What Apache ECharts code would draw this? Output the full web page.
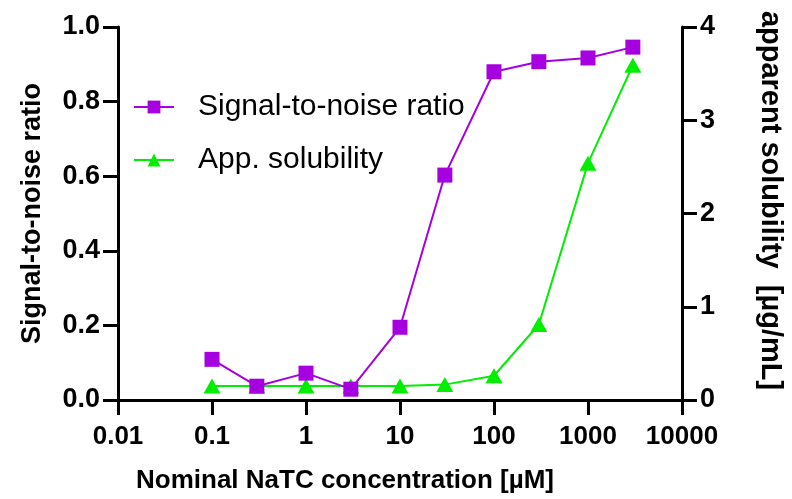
<!DOCTYPE html>
<html>
<head>
<meta charset="utf-8">
<script src="https://cdn.jsdelivr.net/npm/echarts@6/dist/echarts.min.js"></script>
<style>html,body{margin:0;padding:0;background:#fff}#c{width:792px;height:499px}</style>
</head>
<body>
<div id="c"></div>
<script>
const concentrations = [0.1, 0.3, 1, 3, 10, 30, 100, 300, 1000, 3000];
const snrValues = [0.109, 0.037, 0.072, 0.029, 0.195, 0.603, 0.88, 0.907, 0.917, 0.946];
const solubilityValues = [0.15, 0.15, 0.15, 0.15, 0.15, 0.165, 0.26, 0.81, 2.54, 3.59];
const xTickLabels = ['0.01', '0.1', '1', '10', '100', '1000', '10000'];
const seriesNames = ['Signal-to-noise ratio', 'App. solubility'];

const FONT = 'Liberation Sans, Arial, sans-serif';
const axisLineStyle = {color: '#000', width: 3};
const chart = echarts.init(document.getElementById('c'), null, {renderer: 'canvas'});
chart.setOption({
  animation: false,
  grid: {left: 118, right: 109, top: 27, bottom: 97, containLabel: false},
  legend: {
    orient: 'vertical', left: 133, top: 92, padding: 0, itemGap: 23, itemWidth: 40, itemHeight: 16,
    textStyle: {fontFamily: FONT, fontSize: 30, lineHeight: 30, color: '#000', padding: [0, 0, 0, 19]},
    data: seriesNames
  },
  xAxis: [{
    type: 'log', logBase: 10, min: 0.01, max: 10000,
    axisLine: {show: true, lineStyle: axisLineStyle},
    axisTick: {show: true, inside: false, length: 15, lineStyle: {width: 3, color: '#000'}},
    splitLine: {show: false}, minorTick: {show: false},
    axisLabel: {
      margin: 24, color: '#000', fontFamily: FONT, fontWeight: 'bold', fontSize: 26,
      formatter: function (v) {
        const i = Math.round(Math.log10(v)) + 2;
        return xTickLabels[i];
      }
    },
    name: 'Nominal NaTC concentration [µM]', nameLocation: 'middle', nameGap: 68,
    nameTextStyle: {fontFamily: FONT, fontWeight: 'bold', fontSize: 26, color: '#000', padding: [0, 110, 0, 0]}
  }, {
    type: 'value', position: 'top', min: 0, max: 1,
    axisLine: {show: true, lineStyle: axisLineStyle},
    axisTick: {show: false}, axisLabel: {show: false}, splitLine: {show: false}
  }],
  yAxis: [{
    type: 'value', min: 0, max: 1, interval: 0.2, position: 'left',
    axisLine: {show: true, lineStyle: axisLineStyle},
    axisTick: {show: true, inside: false, length: 15, lineStyle: {width: 3, color: '#000'}},
    splitLine: {show: false},
    axisLabel: {margin: 18, color: '#000', fontFamily: FONT, fontWeight: 'bold', fontSize: 27,
      formatter: v => v.toFixed(1)},
    name: 'Signal-to-noise ratio', nameLocation: 'middle', nameGap: 72,
    nameTextStyle: {fontFamily: FONT, fontWeight: 'bold', fontSize: 27, color: '#000'}
  }, {
    type: 'value', min: 0, max: 4, interval: 1, position: 'right',
    axisLine: {show: true, lineStyle: axisLineStyle},
    axisTick: {show: true, inside: false, length: 15, lineStyle: {width: 3, color: '#000'}},
    splitLine: {show: false},
    axisLabel: {margin: 18, color: '#000', fontFamily: FONT, fontWeight: 'bold', fontSize: 27},
    name: 'apparent solubility  [µg/mL]', nameLocation: 'middle', nameGap: 73, nameRotate: -90,
    nameTextStyle: {fontFamily: FONT, fontWeight: 'bold', fontSize: 29, color: '#000', padding: [0, 26, 0, 0]}
  }],
  series: [{
    name: seriesNames[0], type: 'line', xAxisIndex: 0, yAxisIndex: 0,
    data: concentrations.map((c, i) => [c, snrValues[i]]),
    symbol: 'rect', symbolSize: 15,
    lineStyle: {color: '#a600e0', width: 2}, itemStyle: {color: '#a600e0'}, z: 3
  }, {
    name: seriesNames[1], type: 'line', xAxisIndex: 0, yAxisIndex: 1,
    data: concentrations.map((c, i) => [c, solubilityValues[i]]),
    symbol: 'triangle', symbolSize: [17, 15],
    lineStyle: {color: '#00ee00', width: 2}, itemStyle: {color: '#00ee00'}, z: 2
  }]
});
</script>
</body>
</html>
